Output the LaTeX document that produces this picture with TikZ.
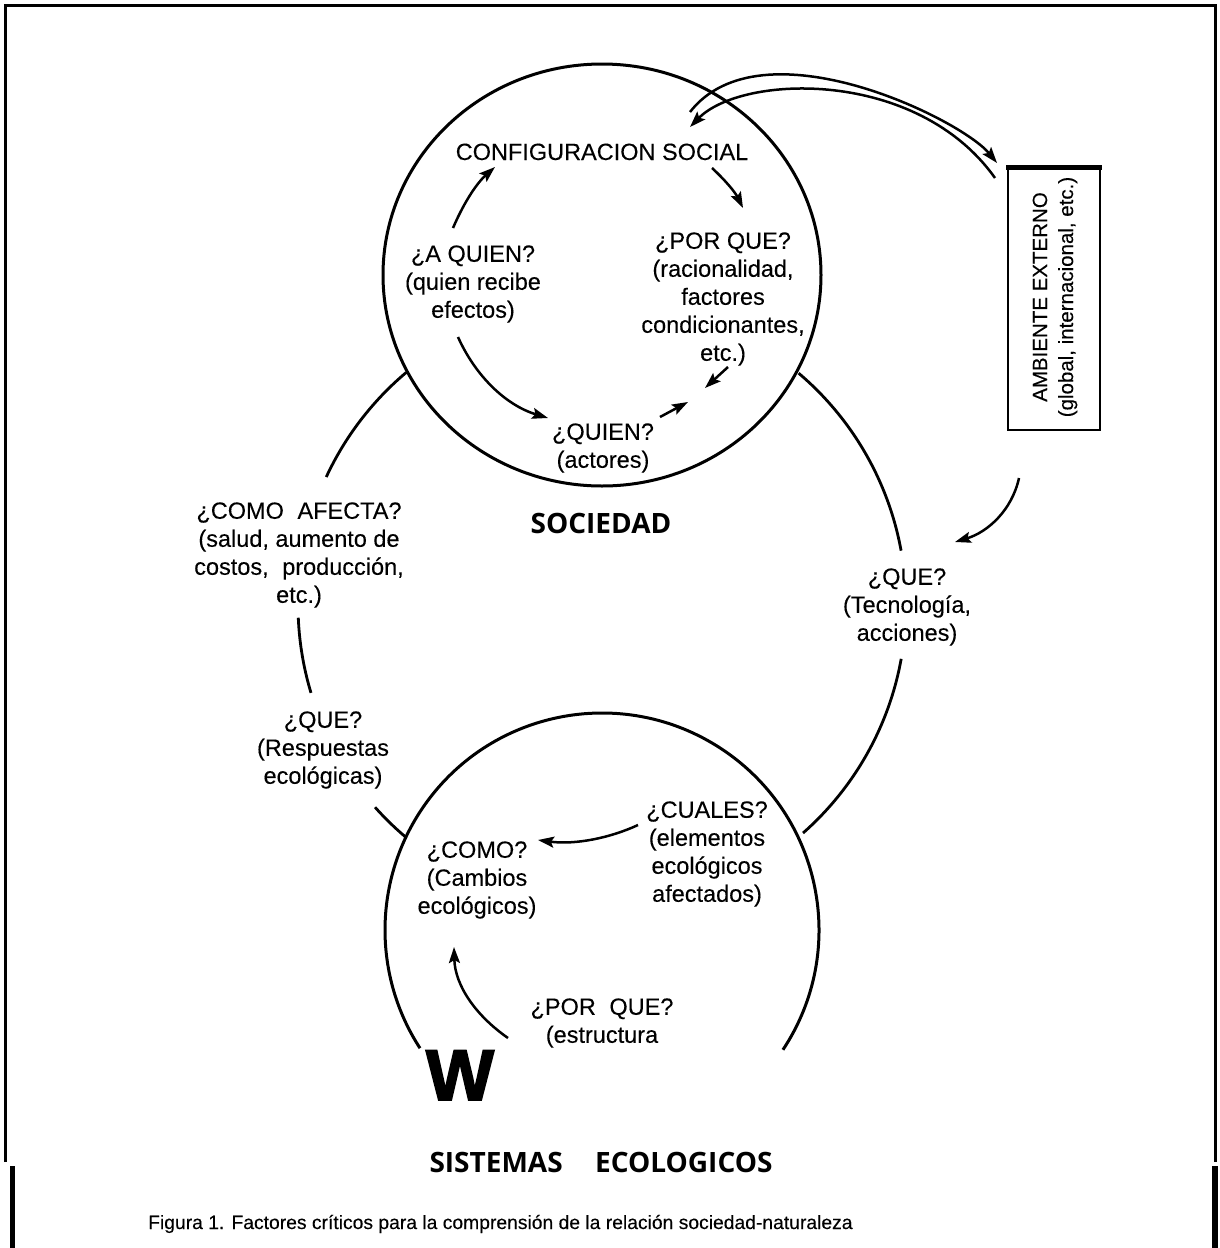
\documentclass[tikz,border=0pt]{standalone}
\usepackage{fontspec}
\setmainfont{Liberation Sans}
\newfontfamily\bodyfont{Liberation Sans}[FakeBold=0.2]
\newfontfamily\heavyfont{Liberation Sans Bold}[FakeBold=2.5]
\newfontfamily\hum{Open Sans}
\usetikzlibrary{arrows.meta}
\begin{document}
\begin{tikzpicture}[x=1pt,y=-1pt,
  txt/.style={align=center,inner sep=0pt,font=\bodyfont\fontsize{23.5}{28}\selectfont},
  ring/.style={line width=3pt},
  loopline/.style={line width=2.8pt},
  flow/.style={line width=2.5pt,-{Stealth[length=16pt,width=11pt,inset=3pt]}},
  heading/.style={inner sep=0pt,font=\hum\bfseries\fontsize{28}{32}\selectfont},
  frameline/.style={line width=3pt}]
\useasboundingbox (0,0) rectangle (1220,1248);
% frame
\draw[frameline] (5,1162) -- (5,5) -- (1215,5) -- (1215,1162);
\draw[line width=5pt] (12,1166) -- (12,1248);
\draw[line width=6pt] (1215,1166) -- (1215,1248);

% society circle
\draw[ring] (602,275) ellipse [x radius=219, y radius=211];
% ecological systems circle (open at the bottom)
\draw[ring] (602,930) ++(33.5:217) arc[start angle=33.5, end angle=-213, radius=217];

% outer loop linking both circles
\draw[loopline] (602,605) ++(-130.1:304) arc[start angle=-130.1, end angle=-155.1, radius=304];
\draw[loopline] (602,605) ++(-182.4:304) arc[start angle=-182.4, end angle=-196.8, radius=304];
\draw[loopline] (602,605) ++(-221.7:304) arc[start angle=-221.7, end angle=-229.6, radius=304];
\draw[loopline] (602,605) ++(-49.7:304) arc[start angle=-49.7, end angle=-10.3, radius=304];
\draw[loopline] (602,605) ++(10.2:304) arc[start angle=10.2, end angle=48.6, radius=304];

% texts of the society circle
\node[txt, anchor=base] (config) at (602,160) {CONFIGURACION SOCIAL};
\node[txt] (aquien) at (473,284) {¿A QUIEN?\\(quien recibe\\efectos)};
\node[txt] (porque) at (723,299) {¿POR QUE?\\(racionalidad,\\factores\\condicionantes,\\etc.)};
\node[txt] (quien) at (603,448) {¿QUIEN?\\(actores)};
\node[heading, anchor=base] (sociedad) at (601,533) {SOCIEDAD};

% outer texts
\node[txt] (comoafecta) at (299,555) {¿COMO\hspace{0.3em} AFECTA?\\(salud, aumento de\\costos,\hspace{0.3em} producción,\\etc.)};
\node[txt] (queresp) at (323,750) {¿QUE?\\(Respuestas\\ecológicas)};
\node[txt] (quetec) at (907,607) {¿QUE?\\(Tecnología,\\acciones)};

% texts of the ecological circle
\node[txt] (cuales) at (707,854) {¿CUALES?\\(elementos\\ecológicos\\afectados)};
\node[txt] (como) at (477,880) {¿COMO?\\(Cambios\\ecológicos)};
\node[txt] (porque2) at (602,1023) {¿POR\hspace{0.3em} QUE?\\(estructura};
\node[inner sep=0pt, anchor=base, font=\heavyfont\fontsize{72}{72}\selectfont] (w) at (460,1100) {W};
\node[heading, anchor=base] (sistemas) at (601,1172) {SISTEMAS\hspace{0.9em} ECOLOGICOS};

% external environment box
\draw[line width=2.8pt] (1008,167) rectangle (1100,430);
\draw[line width=5pt] (1006,167) -- (1102,167);
\node[rotate=90, align=center, inner sep=0pt, font=\bodyfont\fontsize{20.5}{26}\selectfont] (box) at (1055,297) {AMBIENTE EXTERNO\\(global, internacional, etc.)};

% caption
\node[inner sep=0pt, anchor=base west, font=\bodyfont\fontsize{19.3}{24}\selectfont] (caption) at (148,1229) {Figura 1. Factores críticos para la comprensión de la relación sociedad-naturaleza};

% connector end points
\coordinate (t1s) at (690,112); \coordinate (t1e) at (997,163);
\coordinate (t2s) at (995,178); \coordinate (t2e) at (690,127);
\coordinate (bxs) at (1019,478); \coordinate (bxe) at (955,542);
\coordinate (c1s) at (453,228); \coordinate (c1e) at (495,167);
\coordinate (c2s) at (712,168); \coordinate (c2e) at (743,208);
\coordinate (c3s) at (458,337); \coordinate (c3e) at (548,418);
\coordinate (c4s) at (728,367); \coordinate (c4e) at (705,388);
\coordinate (c5s) at (660,417); \coordinate (c5e) at (688,402);
\coordinate (e1s) at (638,825); \coordinate (e1e) at (538,840);
\coordinate (e2s) at (508,1038); \coordinate (e2e) at (454,947);

% arrows
\draw[flow] (t1s) .. controls (761,21) and (961,119) .. (t1e);
\draw[flow] (t2s) .. controls (917,68) and (742,74) .. (t2e);
\draw[flow] (bxs) .. controls (1012,510) and (988,532) .. (bxe);
\draw[flow] (c1s) .. controls (465,200) and (478,182) .. (c1e);
\draw[flow] (c2s) .. controls (725,180) and (735,192) .. (c2e);
\draw[flow] (c3s) .. controls (475,375) and (505,405) .. (c3e);
\draw[flow] (c4s) -- (c4e);
\draw[flow] (c5s) -- (c5e);
\draw[flow] (e1s) .. controls (610,838) and (575,845) .. (e1e);
\draw[flow] (e2s) .. controls (475,1015) and (455,985) .. (e2e);
\end{tikzpicture}
\end{document}
